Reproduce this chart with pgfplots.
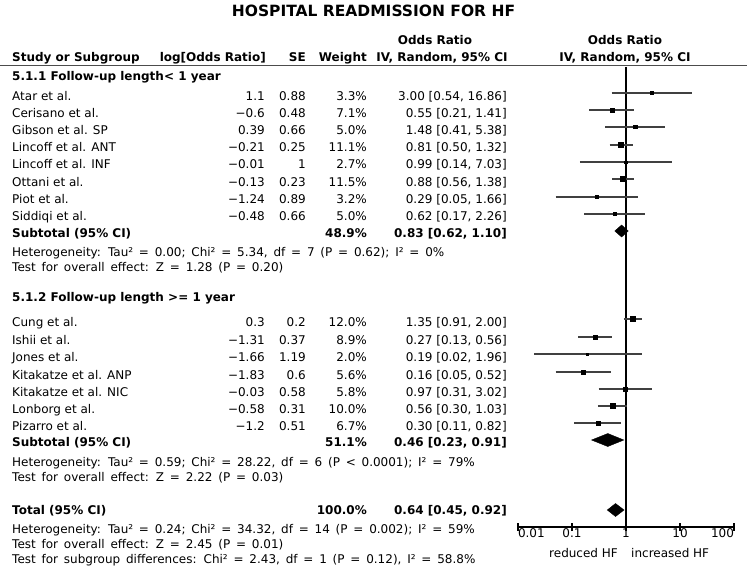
\documentclass[border=0pt]{standalone}
\usepackage{fontspec}
\setmainfont{DejaVu Sans}
\usepackage{pgfplots}
\pgfplotsset{compat=1.18}
\usepackage{pgfplotstable}

\pgfplotstableread{
or   lo    hi    y    w
3.00 0.54 16.86 -93  3.3
0.55 0.21 1.41  -110 7.1
1.48 0.41 5.38  -127 5.0
0.81 0.50 1.32  -145 11.1
0.99 0.14 7.03  -162 2.7
0.88 0.56 1.38  -179 11.5
0.29 0.05 1.66  -197 3.2
0.62 0.17 2.26  -214 5.0
1.35 0.91 2.00  -319 12.0
0.27 0.13 0.56  -337 8.9
0.19 0.02 1.96  -354 2.0
0.16 0.05 0.52  -372 5.6
0.97 0.31 3.02  -389 5.8
0.56 0.30 1.03  -406 10.0
0.30 0.11 0.82  -423 6.7
}\studies

\newcommand{\R}[6]{%
 \node[anchor=base west] at (12pt,-#1pt) {#2};
 \node[anchor=base east] at (265pt,-#1pt) {#3};
 \node[anchor=base east] at (306pt,-#1pt) {#4};
 \node[anchor=base east] at (367pt,-#1pt) {#5};
 \node[anchor=base east] at (507pt,-#1pt) {#6};}
\newcommand{\TL}[2]{\node[anchor=base west] at (12pt,-#1pt) {\spaceskip=5.8pt plus 1pt\relax #2};}

\begin{document}
\begin{tikzpicture}[every node/.style={inner sep=0pt, font=\fontsize{12}{14}\selectfont}]
\path[use as bounding box] (0pt,0pt) rectangle (747pt,-572pt);

% title
\node[anchor=base, font=\fontsize{15.5}{18}\selectfont\bfseries] at (373.5pt,-17pt) {HOSPITAL READMISSION FOR HF};

% headers
\begin{scope}[every node/.append style={font=\fontsize{12}{14}\selectfont\bfseries}]
\node[anchor=base] at (435pt,-45pt) {Odds Ratio};
\node[anchor=base] at (625pt,-45pt) {Odds Ratio};
\node[anchor=base west] at (12pt,-62pt) {Study or Subgroup};
\node[anchor=base east] at (266pt,-62pt) {log[Odds Ratio]};
\node[anchor=base east] at (306pt,-62pt) {SE};
\node[anchor=base east] at (367pt,-62pt) {Weight};
\node[anchor=base] at (442pt,-62pt) {IV, Random, 95\% CI};
\node[anchor=base] at (625pt,-62pt) {IV, Random, 95\% CI};
\end{scope}
\draw[black!70, line width=1.8pt] (0pt,-65.5pt) -- (747pt,-65.5pt);

% group 1
\node[anchor=base west, font=\fontsize{12}{14}\selectfont\bfseries] at (12pt,-81pt) {5.1.1 Follow-up length< 1 year};
\R{100.5}{Atar et al.}{1.1}{0.88}{3.3\%}{3.00 [0.54, 16.86]}
\R{117.5}{Cerisano et al.}{−0.6}{0.48}{7.1\%}{0.55 [0.21, 1.41]}
\R{134.5}{Gibson et al. SP}{0.39}{0.66}{5.0\%}{1.48 [0.41, 5.38]}
\R{152}{Lincoff et al. ANT}{−0.21}{0.25}{11.1\%}{0.81 [0.50, 1.32]}
\R{169}{Lincoff et al. INF}{−0.01}{1}{2.7\%}{0.99 [0.14, 7.03]}
\R{186.5}{Ottani et al.}{−0.13}{0.23}{11.5\%}{0.88 [0.56, 1.38]}
\R{204}{Piot et al.}{−1.24}{0.89}{3.2\%}{0.29 [0.05, 1.66]}
\R{221}{Siddiqi et al.}{−0.48}{0.66}{5.0\%}{0.62 [0.17, 2.26]}
\begin{scope}[every node/.append style={font=\fontsize{12}{14}\selectfont\bfseries}]
\R{237}{Subtotal (95\% CI)}{}{}{48.9\%}{0.83 [0.62, 1.10]}
\end{scope}
\TL{256}{Heterogeneity: Tau² = 0.00; Chi² = 5.34, df = 7 (P = 0.62); I² = 0\%}
\TL{271}{Test for overall effect: Z = 1.28 (P = 0.20)}

% group 2
\node[anchor=base west, font=\fontsize{12}{14}\selectfont\bfseries] at (12pt,-301pt) {5.1.2 Follow-up length >= 1 year};
\R{326}{Cung et al.}{0.3}{0.2}{12.0\%}{1.35 [0.91, 2.00]}
\R{344}{Ishii et al.}{−1.31}{0.37}{8.9\%}{0.27 [0.13, 0.56]}
\R{361}{Jones et al.}{−1.66}{1.19}{2.0\%}{0.19 [0.02, 1.96]}
\R{379}{Kitakatze et al. ANP}{−1.83}{0.6}{5.6\%}{0.16 [0.05, 0.52]}
\R{396}{Kitakatze et al. NIC}{−0.03}{0.58}{5.8\%}{0.97 [0.31, 3.02]}
\R{413}{Lonborg et al.}{−0.58}{0.31}{10.0\%}{0.56 [0.30, 1.03]}
\R{430}{Pizarro et al.}{−1.2}{0.51}{6.7\%}{0.30 [0.11, 0.82]}
\begin{scope}[every node/.append style={font=\fontsize{12}{14}\selectfont\bfseries}]
\R{446}{Subtotal (95\% CI)}{}{}{51.1\%}{0.46 [0.23, 0.91]}
\end{scope}
\TL{466}{Heterogeneity: Tau² = 0.59; Chi² = 28.22, df = 6 (P < 0.0001); I² = 79\%}
\TL{481}{Test for overall effect: Z = 2.22 (P = 0.03)}

% total
\begin{scope}[every node/.append style={font=\fontsize{12}{14}\selectfont\bfseries}]
\R{514}{Total (95\% CI)}{}{}{100.0\%}{0.64 [0.45, 0.92]}
\end{scope}
\TL{533}{Heterogeneity: Tau² = 0.24; Chi² = 34.32, df = 14 (P = 0.002); I² = 59\%}
\TL{548}{Test for overall effect: Z = 2.45 (P = 0.01)}
\TL{563}{Test for subgroup differences: Chi² = 2.43, df = 1 (P = 0.12), I² = 58.8\%}

% plot
\begin{axis}[
  at={(518pt,-527pt)}, anchor=south west,
  scale only axis, width=216pt, height=460pt,
  xmode=log, log basis x=10, xmin=0.01, xmax=100,
  ymin=-527, ymax=-67,
  axis x line=bottom, axis y line=none,
  axis line style={-, black, line width=1.1pt},
  xtick={0.01,0.1,1,10,100},
  xticklabels={\makebox[0pt][l]{0.01},0.1,1,10,\makebox[0pt][r]{100}},
  xminorticks=false,
  tick align=center, major tick length=8pt,
  tick style={black, line width=1.1pt},
  xticklabel style={font=\fontsize{12}{14}\selectfont, inner sep=0pt, anchor=base, yshift=-6pt},
  clip=false,
]
% reference line
\addplot[black, line width=2.2pt] coordinates {(1,-67) (1,-527)};
% confidence intervals
\addplot[black!75, line width=1.1pt] coordinates {(0.54,-93) (16.86,-93)};
\addplot[black!75, line width=1.1pt] coordinates {(0.21,-110) (1.41,-110)};
\addplot[black!75, line width=1.1pt] coordinates {(0.41,-127) (5.38,-127)};
\addplot[black!75, line width=1.1pt] coordinates {(0.50,-145) (1.32,-145)};
\addplot[black!75, line width=1.1pt] coordinates {(0.14,-162) (7.03,-162)};
\addplot[black!75, line width=1.1pt] coordinates {(0.56,-179) (1.38,-179)};
\addplot[black!75, line width=1.1pt] coordinates {(0.05,-197) (1.66,-197)};
\addplot[black!75, line width=1.1pt] coordinates {(0.17,-214) (2.26,-214)};
\addplot[black!75, line width=1.1pt] coordinates {(0.91,-319) (2.00,-319)};
\addplot[black!75, line width=1.1pt] coordinates {(0.13,-337) (0.56,-337)};
\addplot[black!75, line width=1.1pt] coordinates {(0.02,-354) (1.96,-354)};
\addplot[black!75, line width=1.1pt] coordinates {(0.05,-372) (0.52,-372)};
\addplot[black!75, line width=1.1pt] coordinates {(0.31,-389) (3.02,-389)};
\addplot[black!75, line width=1.1pt] coordinates {(0.30,-406) (1.03,-406)};
\addplot[black!75, line width=1.1pt] coordinates {(0.11,-423) (0.82,-423)};
% study squares
\addplot[scatter, only marks, mark=square*,
  scatter/use mapped color={draw=black, fill=black},
  visualization depends on={0.75*sqrt(\thisrow{w}) \as \ms},
  scatter/@pre marker code/.append style={/tikz/mark size=\ms}]
  table[x=or, y=y] {\studies};
% diamonds
\addplot[black, fill=black] coordinates {(0.62,-231) (0.83,-225) (1.10,-231) (0.83,-237)} -- cycle;
\addplot[black, fill=black] coordinates {(0.23,-440) (0.46,-433.5) (0.91,-440) (0.46,-446.5)} -- cycle;
\addplot[black, fill=black] coordinates {(0.45,-510) (0.64,-503.5) (0.92,-510) (0.64,-516.5)} -- cycle;
\end{axis}

\node[anchor=base east] at (618pt,-557pt) {reduced HF};
\node[anchor=base west] at (631pt,-557pt) {increased HF};
\end{tikzpicture}
\end{document}
